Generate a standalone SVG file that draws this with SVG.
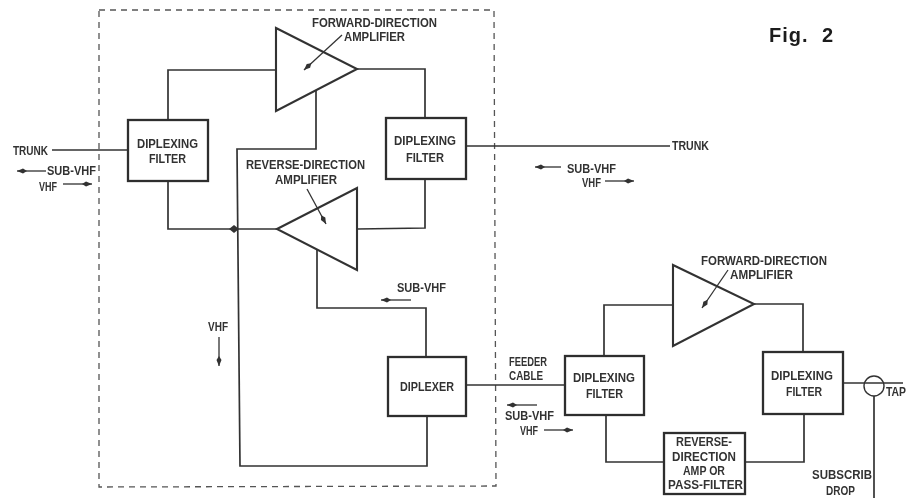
<svg xmlns="http://www.w3.org/2000/svg" width="918" height="498" viewBox="0 0 918 498">
<style>
.l{fill:none;stroke:#333;stroke-width:1.7;stroke-linejoin:miter}
.n{fill:none;stroke:#333;stroke-width:1.3}
.b{fill:#fff;stroke:#2e2e2e;stroke-width:2.3}
.t{fill:#fff;stroke:#333;stroke-width:2.1}
text{font-family:"Liberation Sans",Arial,sans-serif;font-size:12px;font-weight:bold;fill:#333;text-anchor:start}
.f{font-size:20px;fill:#1c1c1c}
</style>
<defs>
<marker id="a" markerWidth="11" markerHeight="8" refX="10" refY="4" orient="auto" markerUnits="userSpaceOnUse"><path d="M0 4L4 1.5L10 4L4 6.5Z" fill="#333"/></marker>
<filter id="s" x="0" y="0" width="100%" height="100%"><feGaussianBlur stdDeviation="0.35"/></filter>
</defs>
<rect width="918" height="498" fill="#fff"/>
<path id="boundary" fill="none" stroke="#555" stroke-width="1.3" stroke-dasharray="6 5" d="M99 10H494L496 486L99 487Z"/>
<g filter="url(#s)">
<g id="connectors">
<path class="n" d="M52 150H128"/>
<path class="l" d="M168 120V70H276"/>
<path class="l" d="M357 69H425V118"/>
<path class="l" d="M316 91V149H237L240 466H427V416"/>
<path class="l" d="M168 181V229H277"/>
<path class="l" d="M357 229L425 228V179"/>
<path class="l" d="M317 250V308H426V357"/>
<path class="l" d="M466 146H670"/>
<path class="l" d="M466 385H565"/>
<path class="l" d="M604 356V305H673"/>
<path class="l" d="M754 304H803V352"/>
<path class="l" d="M606 415V462H664"/>
<path class="l" d="M745 462H804V414"/>
<path class="l" d="M843 383H903"/>
<path class="l" d="M874 396V498"/>
<path d="M229 229L234 225L239 229L234 233Z" fill="#333"/>
</g>
<g id="signal-arrows">
<path class="n" d="M46 171H17" marker-end="url(#a)"/>
<path class="n" d="M63 184H92" marker-end="url(#a)"/>
<path class="n" d="M561 167H535" marker-end="url(#a)"/>
<path class="n" d="M605 181H634" marker-end="url(#a)"/>
<path class="n" d="M411 300H381" marker-end="url(#a)"/>
<path class="n" d="M219 337V366" marker-end="url(#a)"/>
<path class="n" d="M537 405H507" marker-end="url(#a)"/>
<path class="n" d="M544 430H573" marker-end="url(#a)"/>
</g>
<g id="left-filter"><rect class="b" x="128" y="120" width="80" height="61"/><text x="137" y="148" textLength="61" lengthAdjust="spacingAndGlyphs">DIPLEXING</text><text x="149" y="163" textLength="37" lengthAdjust="spacingAndGlyphs">FILTER</text></g>
<g id="right-filter"><rect class="b" x="386" y="118" width="80" height="61"/><text x="394" y="145" textLength="62" lengthAdjust="spacingAndGlyphs">DIPLEXING</text><text x="406" y="162" textLength="38" lengthAdjust="spacingAndGlyphs">FILTER</text></g>
<g id="forward-amp"><path class="t" d="M276 28L357 69L276 111Z"/><path class="n" d="M342 35L304 70" marker-end="url(#a)"/><text x="312" y="27" textLength="125" lengthAdjust="spacingAndGlyphs">FORWARD-DIRECTION</text><text x="344" y="41" textLength="61" lengthAdjust="spacingAndGlyphs">AMPLIFIER</text></g>
<g id="reverse-amp"><path class="t" d="M277 229L357 188V270Z"/><path class="n" d="M307 189L326 224" marker-end="url(#a)"/><text x="246" y="169" textLength="119" lengthAdjust="spacingAndGlyphs">REVERSE-DIRECTION</text><text x="275" y="184" textLength="62" lengthAdjust="spacingAndGlyphs">AMPLIFIER</text></g>
<g id="diplexer"><rect class="b" x="388" y="357" width="78" height="59"/><text x="400" y="391" textLength="54" lengthAdjust="spacingAndGlyphs">DIPLEXER</text></g>
<g id="feeder-filter-a"><rect class="b" x="565" y="356" width="79" height="59"/><text x="573" y="382" textLength="62" lengthAdjust="spacingAndGlyphs">DIPLEXING</text><text x="586" y="398" textLength="37" lengthAdjust="spacingAndGlyphs">FILTER</text></g>
<g id="feeder-filter-b"><rect class="b" x="763" y="352" width="80" height="62"/><text x="771" y="380" textLength="62" lengthAdjust="spacingAndGlyphs">DIPLEXING</text><text x="786" y="396" textLength="36" lengthAdjust="spacingAndGlyphs">FILTER</text></g>
<g id="feeder-amp"><path class="t" d="M673 265L754 304L673 346Z"/><path class="n" d="M728 270L702 308" marker-end="url(#a)"/><text x="701" y="265" textLength="126" lengthAdjust="spacingAndGlyphs">FORWARD-DIRECTION</text><text x="730" y="279" textLength="63" lengthAdjust="spacingAndGlyphs">AMPLIFIER</text></g>
<g id="reverse-box"><rect class="b" x="664" y="433" width="81" height="61"/><text x="676" y="446" textLength="56" lengthAdjust="spacingAndGlyphs">REVERSE-</text><text x="672" y="461" textLength="64" lengthAdjust="spacingAndGlyphs">DIRECTION</text><text x="683" y="475" textLength="42" lengthAdjust="spacingAndGlyphs">AMP OR</text><text x="668" y="489" textLength="75" lengthAdjust="spacingAndGlyphs">PASS-FILTER</text></g>
<g id="tap"><circle cx="874" cy="386" r="10" fill="none" stroke="#333" stroke-width="1.4"/><text x="886" y="396" textLength="20" lengthAdjust="spacingAndGlyphs">TAP</text></g>
<g id="labels">
<text x="13" y="155" textLength="35" lengthAdjust="spacingAndGlyphs">TRUNK</text>
<text x="47" y="175" textLength="49" lengthAdjust="spacingAndGlyphs">SUB-VHF</text>
<text x="39" y="191" textLength="18" lengthAdjust="spacingAndGlyphs">VHF</text>
<text x="672" y="150" textLength="37" lengthAdjust="spacingAndGlyphs">TRUNK</text>
<text x="567" y="173" textLength="49" lengthAdjust="spacingAndGlyphs">SUB-VHF</text>
<text x="582" y="187" textLength="19" lengthAdjust="spacingAndGlyphs">VHF</text>
<text x="397" y="292" textLength="49" lengthAdjust="spacingAndGlyphs">SUB-VHF</text>
<text x="208" y="331" textLength="20" lengthAdjust="spacingAndGlyphs">VHF</text>
<text x="509" y="366" textLength="38" lengthAdjust="spacingAndGlyphs">FEEDER</text>
<text x="509" y="380" textLength="34" lengthAdjust="spacingAndGlyphs">CABLE</text>
<text x="505" y="420" textLength="49" lengthAdjust="spacingAndGlyphs">SUB-VHF</text>
<text x="520" y="435" textLength="18" lengthAdjust="spacingAndGlyphs">VHF</text>
<text x="812" y="479" textLength="60" lengthAdjust="spacingAndGlyphs">SUBSCRIB</text>
<text x="826" y="495" textLength="29" lengthAdjust="spacingAndGlyphs">DROP</text>
<text class="f" x="769" y="42" textLength="64" xml:space="preserve">Fig.  2</text>
</g>
</g>
</svg>
